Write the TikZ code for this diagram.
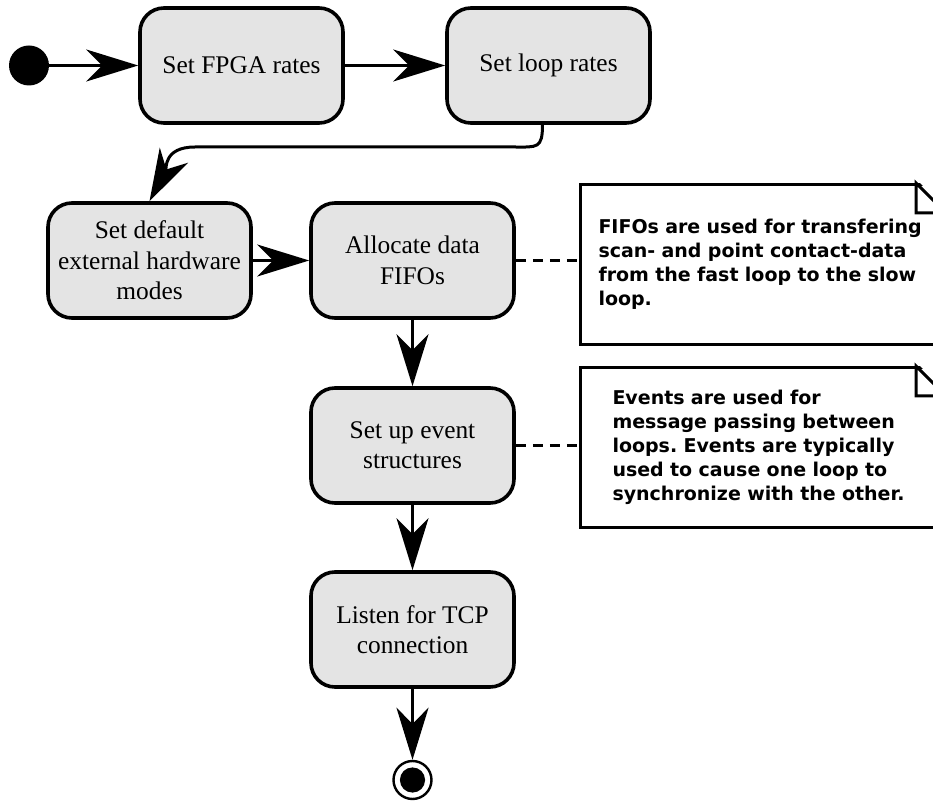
\documentclass[tikz,border=0pt]{standalone}
\usepackage{fontspec}
\setmainfont{Liberation Serif}
\newfontfamily\notefont{DejaVu Sans}
\usetikzlibrary{arrows.meta,positioning}
\definecolor{stateGray}{RGB}{228,228,228}
\frenchspacing

\begin{document}
\begin{tikzpicture}[x=0.5pt,y=-0.5pt,
    state/.style={draw, line width=1.8pt, rounded corners=12pt, fill=stateGray,
        minimum width=101.5pt, minimum height=57.5pt, inner sep=3pt, align=center,
        font=\fontsize{12.7}{15.2}\selectfont},
    startdot/.style={circle, fill=black, minimum size=20pt, inner sep=0pt},
    enddot/.style={circle, draw, line width=1.2pt, fill=white, minimum size=19pt, inner sep=0pt,
        path picture={\fill[black] (path picture bounding box.center) circle (6.3pt);}},
    flow/.style={line width=1.5pt, -{Stealth[length=26pt,width=16pt,inset=8pt]}},
    note/.style={draw, line width=1.5pt, fill=white, anchor=north west, align=left,
        text width=164pt, inner xsep=9pt, minimum height=80pt,
        font=\notefont\bfseries\fontsize{9.5}{12}\selectfont},
    link/.style={line width=1.2pt, dash pattern=on 5pt off 3.5pt}]

    \useasboundingbox (0,0) rectangle (933,802);

    % states
    \node[startdot] (start) at (29,65.5) {};
    \node[state] (fpga) at (241.5,65.5) {Set FPGA rates};
    \node[state] (loops) at (548.5,65.5) {Set loop rates};
    \node[state] (hwmodes) at (149.5,260.5) {Set default\\external hardware\\modes};
    \node[state] (fifos) at (412.5,260.5) {Allocate data\\FIFOs};
    \node[state] (events) at (412.5,445.5) {Set up event\\structures};
    \node[state] (tcp) at (412.5,629.5) {Listen for TCP\\connection};
    \node[enddot] (stop) at (412.5,780) {};

    % notes
    \node[note] (fifonote) at (579,183) {FIFOs are used for transfering\\scan- and point contact-data\\from the fast loop to the slow\\loop.};
    \node[note, text width=150pt, inner xsep=16pt] (eventnote) at (579,366) {Events are used for\\message passing between\\loops. Events are typically\\used to cause one loop to\\synchronize with the other.};
    \foreach \n in {fifonote,eventnote} {
        \fill[white] ([xshift=-15pt,yshift=2pt]\n.north east) -- ([xshift=2pt,yshift=2pt]\n.north east)
            -- ([xshift=2pt,yshift=-15pt]\n.north east) -- cycle;
        \draw[line width=1.5pt] ([xshift=-15pt]\n.north east) -- ++(0,-15pt)
            -- ([yshift=-15pt]\n.north east) -- cycle;
    }

    % turn points of the long connector
    \coordinate (turnR) at (515,147);
    \coordinate (turnL) at (195,147);

    % transitions
    \draw[flow] (start) -- (fpga);
    \draw[flow] (fpga) -- (loops);
    \draw[flow] ([xshift=-3pt]loops.south) .. controls +(0,24) and +(22,0) .. (turnR)
        -- (turnL) .. controls +(-32,0) and +(17,-32) .. (hwmodes.north);
    \draw[flow] (hwmodes) -- (fifos);
    \draw[flow] (fifos) -- (events);
    \draw[flow] (events) -- (tcp);
    \draw[flow] (tcp) -- (stop);

    % note links
    \draw[link] (fifos.east) -- (fifos.east -| fifonote.west);
    \draw[link] (events.east) -- (events.east -| eventnote.west);

\end{tikzpicture}
\end{document}
